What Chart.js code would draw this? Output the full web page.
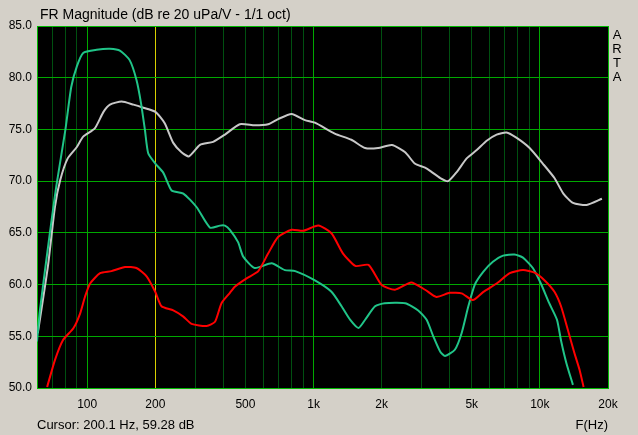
<!DOCTYPE html>
<html>
<head>
<meta charset="utf-8">
<script src="https://cdn.jsdelivr.net/npm/chart.js@4.4.1/dist/chart.umd.min.js"></script>
<style>
  html, body { margin: 0; padding: 0; background: #d4d0c8; }
  canvas { display: block; }
</style>
</head>
<body>
<canvas id="frChart" width="638" height="435"></canvas>
<script>
// texts
const titleText = "FR Magnitude (dB re 20 uPa/V - 1/1 oct)";
const cursorText = "Cursor: 200.1 Hz, 59.28 dB";
const xAxisText = "F(Hz)";
const brandText = "ARTA";
const cursorFreq = 200;

// axes
const xMin = 60, xMax = 20000;
const yMin = 50, yMax = 85, yStep = 5;
const xGridValues = [60, 70, 80, 90, 100, 200, 300, 400, 500, 600, 700, 800, 900,
    1000, 2000, 3000, 4000, 5000, 6000, 7000, 8000, 9000, 10000, 20000];
const xLabelValues = [100, 200, 500, 1000, 2000, 5000, 10000, 20000];
const xLabelTexts = ["100", "200", "500", "1k", "2k", "5k", "10k", "20k"];
const decadeValues = [100, 1000, 10000];

// gray curve
const grayFreq = [60.5, 67, 72, 76, 82, 90, 96, 108, 118, 126, 142, 160, 177, 200, 220, 240, 261, 282,
    315, 360, 406, 472, 550, 630, 697, 800, 916, 1014, 1240, 1470, 1690, 1930, 2220, 2540, 2800,
    3110, 3320, 3630, 3930, 4300, 4750, 5260, 5820, 6440, 7120, 7870, 9010, 10300, 11600, 12700,
    14000, 16100, 18800];
const grayDb = [55.3, 61.7, 67.5, 70.1, 72.2, 73.3, 74.3, 75.1, 76.7, 77.4, 77.7, 77.4, 77.1, 76.7, 75.6, 73.7, 72.8, 72.4,
    73.5, 73.8, 74.5, 75.5, 75.4, 75.5, 76.0, 76.5, 75.9, 75.65, 74.6, 74.0, 73.2, 73.2, 73.5, 72.8, 71.7,
    71.3, 70.9, 70.3, 70.0, 70.9, 72.2, 73.0, 73.9, 74.5, 74.7, 74.2, 73.2, 71.7, 70.3, 68.8,
    67.9, 67.7, 68.3];

// green curve
const greenFreq = [60, 61.8, 68.4, 73, 80, 85, 90, 96, 110, 126, 140, 154, 165, 173, 180, 186, 200, 217,
    236, 266, 304, 349, 386, 406, 427, 464, 489, 550, 653, 747, 830, 1014, 1200, 1330, 1450, 1580,
    1690, 1870, 2060, 2540, 2900, 3160, 3380, 3630, 3810, 4210, 4510, 4830, 5160, 5630, 6200, 6880,
    7730, 8420, 9310, 10100, 11000, 11900, 12400, 13100, 14000];
const greenDb = [54.5, 57.5, 65.0, 69.5, 74.9, 79.1, 81.1, 82.4, 82.7, 82.8, 82.6, 81.7, 79.8, 77.5, 74.9, 72.7, 71.7, 70.8,
    69.1, 68.8, 67.5, 65.5, 65.7, 65.7, 65.3, 64.1, 62.7, 61.6, 62.05, 61.4, 61.3, 60.4, 59.3, 57.9, 56.6, 55.8,
    56.6, 57.9, 58.2, 58.2, 57.5, 56.6, 55.0, 53.5, 53.1, 53.7, 55.3, 57.9, 60.0, 61.25, 62.2, 62.8,
    62.9, 62.6, 61.6, 60.1, 58.2, 56.6, 54.6, 52.4, 50.3];

// red curve
const redFreq = [66.5, 72, 78, 87, 93, 97.7, 103, 114, 128, 147, 165, 183, 200, 213, 240, 266, 289, 337,
    367, 392, 427, 449, 506, 570, 630, 697, 800, 900, 1050, 1200, 1350, 1530, 1750, 2000, 2290,
    2700, 3110, 3490, 4000, 4510, 5060, 5630, 6440, 7360, 8420, 9480, 10500, 11600, 12400, 13300,
    14200, 15000, 15600];
const redDb = [50.1, 52.7, 54.6, 55.8, 57.2, 58.8, 60.1, 61.1, 61.3, 61.7, 61.6, 60.8, 59.28, 57.9, 57.5, 56.9, 56.2, 56.0,
    56.4, 58.2, 59.2, 59.8, 60.6, 61.3, 63.0, 64.6, 65.3, 65.2, 65.7, 64.96, 63.0, 61.8, 61.9, 59.96, 59.5,
    60.2, 59.5, 58.8, 59.2, 59.15, 58.5, 59.3, 60.1, 61.1, 61.4, 61.15, 60.4, 59.3, 57.9, 55.6,
    53.4, 51.7, 50.1];

const FONT = '"Liberation Sans", Arial, sans-serif';
const MAJOR = "#00a800";
const MINOR = "#005010";
const EDGE = "#00b800";
const CURSOR = "#d8d000";

// one colour per vertical grid line
const xGridColors = xGridValues.map((v) => {
    if (v === cursorFreq) return CURSOR;
    if (v === xMin || v === xMax) return EDGE;
    return decadeValues.includes(v) ? MAJOR : MINOR;
});

function points(freq, db) {
    return freq.map((f, i) => ({ x: f, y: db[i] }));
}

// black plot area + ARTA texts
const artaFrame = {
    id: "artaFrame",
    beforeDraw(chart) {
        const { ctx, chartArea: a } = chart;
        ctx.save();
        ctx.fillStyle = "#d4d0c8";
        ctx.fillRect(0, 0, chart.width, chart.height);
        ctx.fillStyle = "#000000";
        ctx.fillRect(a.left, a.top, a.right - a.left, a.bottom - a.top);
        ctx.restore();
    },
    afterDraw(chart) {
        const ctx = chart.ctx;
        ctx.save();
        ctx.fillStyle = "#000000";
        ctx.textBaseline = "alphabetic";
        ctx.font = "14px " + FONT;
        ctx.textAlign = "left";
        ctx.fillText(titleText, 40, 19);
        ctx.font = "13px " + FONT;
        ctx.fillText(cursorText, 37, 429);
        ctx.textAlign = "right";
        ctx.fillText(xAxisText, 608, 429);
        ctx.textAlign = "center";
        brandText.split("").forEach((ch, i) => ctx.fillText(ch, 617, 39 + i * 14));
        ctx.restore();
    },
};

new Chart(document.getElementById("frChart").getContext("2d"), {
    type: "line",
    data: {
        datasets: [
            { label: "red", data: points(redFreq, redDb), borderColor: "#ff0000" },
            { label: "green", data: points(greenFreq, greenDb), borderColor: "#20c488" },
            { label: "gray", data: points(grayFreq, grayDb), borderColor: "#c8c8c8" },
        ],
    },
    options: {
        responsive: false,
        animation: false,
        devicePixelRatio: 1,
        layout: { padding: { left: 0, top: 26, right: 30, bottom: 0 } },
        elements: {
            point: { radius: 0 },
            line: { borderWidth: 2, tension: 0.2, fill: false },
        },
        plugins: {
            legend: { display: false },
            tooltip: { enabled: false },
        },
        scales: {
            x: {
                type: "logarithmic",
                min: xMin,
                max: xMax,
                afterBuildTicks: (s) => { s.ticks = xGridValues.map((v) => ({ value: v })); },
                afterFit: (s) => { s.height = 47; },
                ticks: {
                    autoSkip: false,
                    maxRotation: 0,
                    padding: 9,
                    color: "#000000",
                    font: { family: FONT, size: 12 },
                    callback: (v) => {
                        const i = xLabelValues.indexOf(v);
                        return i >= 0 ? xLabelTexts[i] : "";
                    },
                },
                grid: {
                    drawTicks: false,
                    lineWidth: 1,
                    color: xGridColors,
                },
                border: { color: EDGE, width: 1 },
            },
            y: {
                min: yMin,
                max: yMax,
                afterFit: (s) => { s.width = 37; },
                ticks: {
                    stepSize: yStep,
                    padding: 5,
                    color: "#000000",
                    font: { family: FONT, size: 12 },
                    callback: (v) => Number(v).toFixed(1),
                },
                grid: {
                    drawTicks: false,
                    lineWidth: 1,
                    color: (c) => (c.tick && (c.tick.value === yMax || c.tick.value === yMin) ? EDGE : MAJOR),
                },
                border: { color: EDGE, width: 1 },
            },
        },
    },
    plugins: [artaFrame],
});
</script>
</body>
</html>
